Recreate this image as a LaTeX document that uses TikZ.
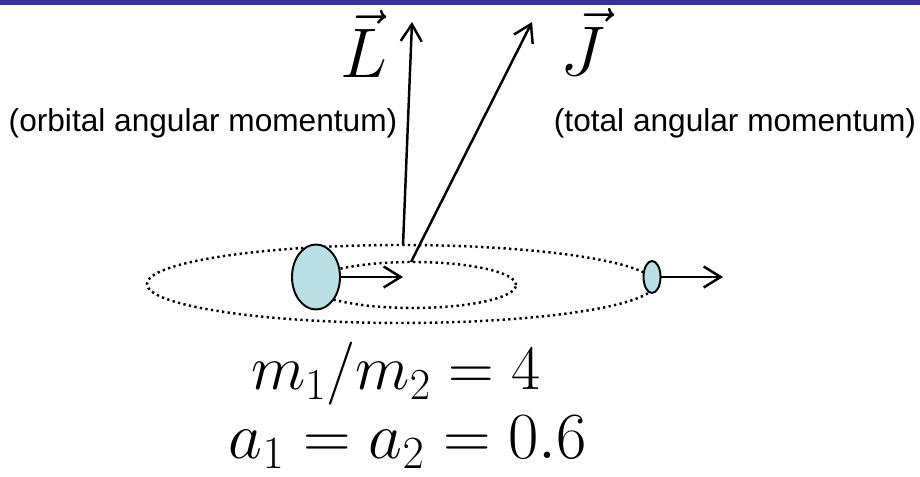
\RequirePackage{fix-cm}
\documentclass[tikz,border=0pt]{standalone}
\usepackage{amsmath,amssymb}
\usepackage{fontspec}
\newfontfamily\labelfont{Liberation Sans}
\usepackage{tikz}
\usetikzlibrary{arrows.meta}
\usetikzlibrary{shapes.geometric}
\definecolor{barblue}{RGB}{51,51,153}
\definecolor{bodyfill}{RGB}{185,223,228}
\tikzset{
	orbit/.style={ellipse, draw, line width=1.4pt, dash pattern=on 1.3pt off 1.9pt, inner sep=0pt, outer sep=0pt},
	body/.style={ellipse, draw, line width=1.1pt, fill=bodyfill, inner sep=0pt, outer sep=0pt},
	vecarrow/.style={line width=1.4pt, -{Straight Barb[length=0.34cm,width=0.42cm,line width=1.4pt]}},
	bigmath/.style={font=\fontsize{36}{43}\selectfont},
	sidelabel/.style={font=\labelfont\fontsize{18}{22}\selectfont, anchor=base}
}
\begin{document}
\begin{tikzpicture}[scale=1.0]
		\useasboundingbox (0,0) rectangle (18.4,9.54);
		\fill[barblue] (0,9.44) rectangle (18.4,9.54);
		
		% orbits (dotted)
		\node[orbit, minimum width=10.16cm, minimum height=1.56cm] (outer) at (8.02,3.86) {};
		\node[orbit, minimum width=4.12cm, minimum height=0.92cm] (inner) at (8.26,3.84) {};
		
		% the two bodies
		\node[body, minimum width=0.96cm, minimum height=1.3cm] (heavy) at (6.32,4.00) {};
		\node[body, minimum width=0.34cm, minimum height=0.64cm] (light) at (13.04,4.00) {};
		
		% velocities
		\coordinate (vheavy) at (8.06,4.00);
		\coordinate (vlight) at (14.46,4.00);
		\draw[vecarrow] (heavy.east) -- (vheavy);
		\draw[vecarrow] (light.east) -- (vlight);
		
		% angular momenta
		\coordinate (Ltip) at (8.24,9.10);
		\coordinate (Jtip) at (10.64,9.10);
		\draw[vecarrow] ([xshift=0.04cm]outer.north) -- (Ltip);
		\draw[vecarrow] ([xshift=-0.04cm]inner.north) -- (Jtip);
		\node[bigmath, font=\fontsize{40}{48}\selectfont, anchor=base] (Lvec) at (7.28,7.98) {$\vec{L}$};
		\node[bigmath, font=\fontsize{40}{48}\selectfont, anchor=base] (Jvec) at (11.66,8.02) {$\vec{J}$};
		
		\node[sidelabel] (orbital) at (4.06,6.90) {(orbital angular momentum)};
		\node[sidelabel] (total) at (14.70,6.90) {(total angular momentum)};
		
		% parameters
		\node[bigmath, anchor=base] (ratio) at (7.92,1.74) {$m_1/m_2 = 4$};
		\node[bigmath, font=\fontsize{37.5}{45}\selectfont, anchor=base] (spins) at (8.16,0.36) {$a_1 = a_2 = 0.6$};
\end{tikzpicture}
\end{document}
